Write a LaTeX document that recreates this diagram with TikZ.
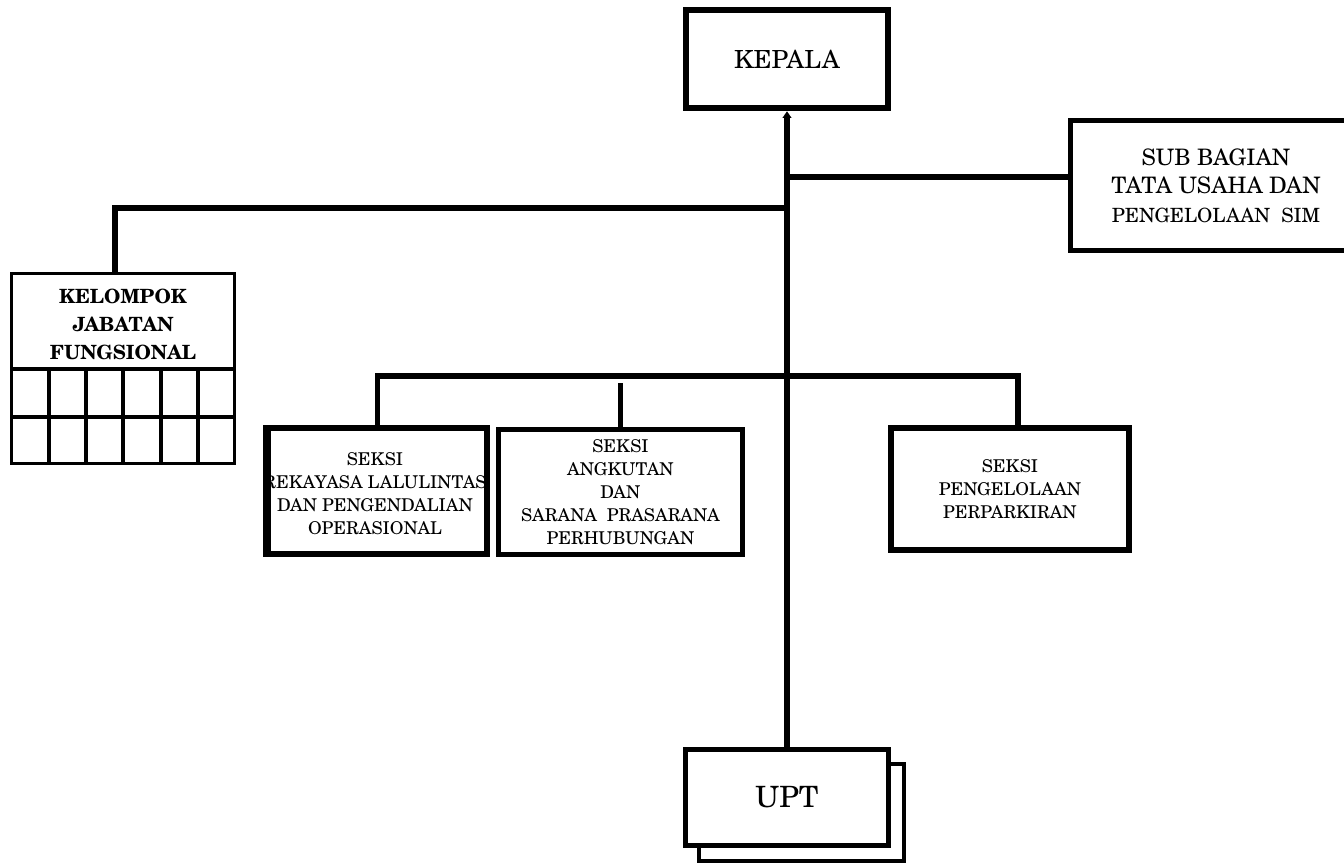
\documentclass[tikz,border=0pt]{standalone}
\usepackage{fontspec}
\setmainfont{texgyreschola-regular.otf}[BoldFont=texgyreschola-bold.otf]
\usetikzlibrary{arrows.meta}
\tikzset{
  unitbox/.style={draw, fill=white, inner sep=0pt, align=center},
  seksifont/.style={font=\fontsize{13.2pt}{17.3pt}\selectfont},
  seksibox/.style={unitbox, line width=4.1pt, seksifont},
  link/.style={line width=4pt},
}
\begin{document}
\begin{tikzpicture}[x=0.75pt,y=-0.75pt]
\useasboundingbox (0,0) rectangle (1344,863);

% head of office
\node[unitbox, line width=4.9pt, minimum width=151.5pt, minimum height=73.5pt,
  font=\fontsize{18.7pt}{22pt}\selectfont] (kepala) at (787,59) {KEPALA};

% administration sub-division (runs off the right margin)
\node[unitbox, line width=3.8pt, minimum width=218pt, minimum height=97.5pt,
  font=\fontsize{17pt}{21.5pt}\selectfont] (sub) at (1216,185.5)
  {SUB BAGIAN\\TATA USAHA DAN\\{\fontsize{14.7pt}{20pt}\selectfont PENGELOLAAN\ \ SIM}};

% functional group with its grid
\node[unitbox, line width=2.3pt, minimum width=167.3pt, minimum height=142.5pt] (kjf) at (123,368.5) {};
\foreach \gx in {49,86,123,161,198}
  \draw[line width=2.3pt] (\gx,369) -- (\gx,465);
\draw[line width=2.3pt] (10,369) -- (236,369) (10,417) -- (236,417);
\node[align=center, inner sep=0pt, font=\bfseries\fontsize{14.7pt}{21pt}\selectfont] (kjftext) at (123,324)
  {KELOMPOK\\JABATAN\\FUNGSIONAL};

% sections
\node[seksibox, minimum width=164.3pt, minimum height=94.5pt] (sek1) at (377.5,491) {};
\node[align=center, inner sep=0pt, seksifont] (sek1text) at (375,494)
  {SEKSI\\REKAYASA LALULINTAS\\DAN PENGENDALIAN\\OPERASIONAL};
\draw[line width=4.1pt] (sek1.north west) -- (sek1.south west);
\node[seksibox, line width=3.8pt, minimum width=183pt, minimum height=93.8pt] (sek2) at (620.5,492)
  {SEKSI\\ANGKUTAN\\DAN\\SARANA\ \ PRASARANA\\PERHUBUNGAN};
\node[seksibox, minimum width=178.5pt, minimum height=91.5pt] (sek3) at (1010,489)
  {SEKSI\\PENGELOLAAN\\PERPARKIRAN};

% technical units (stacked)
\node[unitbox, line width=3pt, minimum width=153.8pt, minimum height=72.8pt] (uptback) at (801.5,812.5) {};
\node[unitbox, line width=3.8pt, minimum width=152.3pt, minimum height=72pt,
  font=\fontsize{22pt}{26pt}\selectfont] (upt) at (787,797.5) {UPT};

% connectors
\draw[line width=4.5pt, -{Triangle[length=5pt,width=6.5pt]}] (upt.north) -- (kepala.south);
\coordinate (jsub) at (787,177);
\coordinate (jkjf) at (787,208);
\coordinate (jsek) at (787,376);
\draw[link, line width=4.6pt] (jsub) -- (jsub -| sub.west);
\draw[link, line cap=rect] (jkjf) -| ([xshift=-6pt]kjf.north);
\draw[link, line join=miter] (sek1.north) |- (jsek) -| ([xshift=6pt]sek3.north);
\draw[link] (sek2.north) -- ++(0,-44);
\end{tikzpicture}
\end{document}
